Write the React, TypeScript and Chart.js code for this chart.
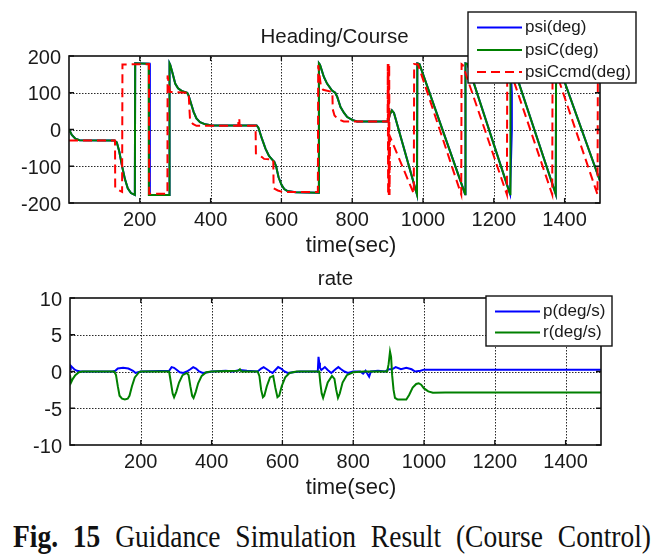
import React, { useEffect, useRef } from "react";
import { Chart, registerables } from "chart.js";

Chart.register(...registerables);

const FONT = "'Liberation Sans', Arial, Helvetica, sans-serif";

// ---------- axis ticks ----------
const xTicks = [200, 400, 600, 800, 1000, 1200, 1400];
const headingTicks = [-200, -100, 0, 100, 200];
const rateTicks = [-10, -5, 0, 5, 10];

// ---------- Heading/Course ----------
const psiT = [0,8,18,30,128,135,142,150,158,166,175,186,187,228,228.5,283,284,286,292,300,308,318,334,338,345,352,360,370,385,404,530,535,545,555,565,574,580,585,592,600,608,616,640,705,706,709,720,729,743,752,758,767,777,786,800,814,902,906,912,918,983,984,990,1119,1120,1126,1246,1251,1251,1247,1253,1375,1376,1382,1500];
const psiV = [0,-15,-25,-29,-30,-35,-60,-100,-135,-160,-173,-178,180,179,-178,-178,180,176,155,125,112,105,100,92,70,48,30,20,14,11,11,5,-25,-52,-72,-82,-88,-100,-130,-150,-162,-167,-171,-172,180,176,143,125,106,100,88,61,45,34,26,22,22,40,52,45,-177,180,178,-176,180,178,-176,0,100,180,178,-176,180,178,-140];

const psiCT = [0,8,18,30,128,135,142,150,158,166,175,186,187,225,225.5,283,284,286,292,300,308,318,334,338,345,352,360,370,385,404,530,535,545,555,565,574,580,585,592,600,608,616,640,705,706,709,720,729,743,752,758,767,777,786,800,814,902,906,912,918,983,984,990,1119,1120,1126,1246,1247,1253,1375,1376,1382,1500];
const psiCV = [0,-15,-25,-29,-30,-35,-60,-100,-135,-160,-173,-178,180,179,-178,-178,180,176,155,125,112,105,100,92,70,48,30,20,14,11,11,5,-25,-52,-72,-82,-88,-100,-130,-150,-162,-167,-171,-172,180,176,143,125,106,100,88,61,45,34,26,22,22,40,52,45,-177,180,178,-176,180,178,-176,180,178,-176,180,178,-140];

const cmdT = [0,130,130.5,140,150,151,226,226.5,278,278.5,285,338,340,342,350,360,478,479,481,482,527,528,545,551,577,578,590,603,703,704,706,712,718,744,745,750,760,776,900,900.5,901.5,902.5,903.5,904.5,905.5,907,974,975,986,1108,1109,1112,1237,1238,1241,1365,1366,1369,1493,1494,1500];
const cmdV = [-30,-30,-158,-165,-170,177,178,-175,-175,147,102,100,60,25,15,10,10,30,30,10,10,-65,-75,-80,-82,-160,-166,-170,-170,175,160,115,108,102,55,38,28,22,22,178,-178,178,-178,178,-178,-20,-175,178,177,-177,178,176,-177,178,176,-177,178,176,-177,178,178];

// ---------- rate ----------
const pT = [0,2,6,12,20,30,120,128,135,150,165,178,185,192,200,280,287,294,302,310,320,330,340,348,356,365,375,390,400,440,460,480,500,530,540,547,556,565,572,580,588,596,606,615,630,650,700,702,704,706,710,720,728,738,750,758,766,775,785,800,820,828,835,845,850,870,890,900,910,920,935,950,965,975,990,1000,1500];
const pV = [0.3,0.8,0.6,0.3,0.1,0,0,0.1,0.4,0.5,0.4,0.1,-0.2,-0.1,0,0.1,0.6,0.5,0.2,-0.1,-0.2,0,0.3,0.6,0.4,0,-0.2,-0.1,0,0.1,0,0.2,0.1,0,0.4,0.6,0.3,0,-0.2,0.2,0.6,0.4,0,-0.2,-0.1,0,0,2.0,1.2,0.5,0.2,0.6,0.2,-0.2,0.3,0.6,0.3,0,-0.2,0,0,-0.3,0.1,-0.7,0,0.1,0,0.3,0.3,0.6,0.3,0.5,0.3,0,0.1,0.25,0.25];

const rT = [0,3,8,15,25,35,125,130,135,140,147,155,163,168,175,183,195,200,280,285,290,294,300,308,318,330,335,340,345,349,355,362,372,385,400,475,480,484,530,535,540,545,549,556,565,574,580,586,591,598,608,620,640,704,707,711,715,720,728,740,747,752,757,762,770,782,800,830,896,900,904,907,910,914,918,925,950,958,968,978,985,992,1000,1012,1025,1060,1500];
const rV = [-0.5,-1.5,-1.0,-0.5,-0.1,0,0,-0.5,-2.0,-3.3,-3.7,-3.8,-3.7,-3.3,-2.0,-0.8,-0.1,0,0,-1.5,-3.0,-3.5,-2.8,-1.5,-0.5,-0.2,-0.5,-2.0,-3.3,-3.6,-2.8,-1.6,-0.6,-0.1,0,0.1,0.3,0,0,-0.6,-2.5,-3.5,-3.3,-2.0,-0.8,-0.6,-2.2,-3.5,-3.3,-2.0,-0.8,-0.2,0,0,-1.5,-3.0,-3.6,-2.8,-1.5,-0.6,-1.0,-2.5,-3.6,-3.0,-1.5,-0.5,-0.1,0,0,1.0,2.7,2.0,-0.5,-2.5,-3.6,-3.8,-3.8,-3.2,-2.2,-1.7,-1.6,-1.8,-2.3,-2.7,-2.9,-2.85,-2.85];

const BLUE = "#0000ff";
const GREEN = "#008000";
const RED = "#ff0000";
const RED_DASH = [9, 5];

const pts = (t: number[], v: number[]) => {
  const n = Math.min(t.length, v.length);
  const out: { x: number; y: number }[] = [];
  for (let i = 0; i < n; i++) out.push({ x: t[i], y: v[i] });
  return out;
};

interface LegendRow { label: string; color: string; dash: number[] }
interface Decor {
  title: string;
  titleY: number;
  xlabel: string;
  xlabelX: number;
  xlabelY: number;
  box: [number, number, number, number];
  rows: LegendRow[];
  rowY: number[];
  lineX: [number, number];
  textX: number;
}

function drawGrid(chart: any) {
  const { ctx, chartArea: a, scales } = chart;
  const xs = scales.x;
  const ys = scales.y;
  ctx.save();
  ctx.fillStyle = "#2a2a2a";
  const step = 3;
  for (const v of xTicks) {
    const px = Math.round(xs.getPixelForValue(v));
    if (px <= a.left + 2 || px >= a.right - 2) continue;
    for (let y = Math.round(a.top) + 1; y < a.bottom; y += step) ctx.fillRect(px, y, 1, 1.5);
  }
  for (const t of ys.ticks) {
    const py = Math.round(ys.getPixelForValue(t.value));
    if (py <= a.top + 2 || py >= a.bottom - 2) continue;
    for (let x = Math.round(a.left) + 1; x < a.right; x += step) ctx.fillRect(x, py, 1.5, 1);
  }
  ctx.restore();
}

function decorPlugin(d: Decor) {
  return {
    id: "decor",
    beforeDatasetsDraw(chart: any) {
      drawGrid(chart);
    },
    afterDraw(chart: any) {
      const { ctx, chartArea: a, scales } = chart;
      ctx.save();
      // frame
      ctx.setLineDash([]);
      ctx.strokeStyle = "#111";
      ctx.lineWidth = 1.6;
      ctx.strokeRect(a.left, a.top, a.right - a.left, a.bottom - a.top);
      // inward tick marks
      ctx.lineWidth = 1.3;
      const tl = 5;
      for (const v of xTicks) {
        const px = scales.x.getPixelForValue(v);
        ctx.beginPath();
        ctx.moveTo(px, a.bottom);
        ctx.lineTo(px, a.bottom - tl);
        ctx.moveTo(px, a.top);
        ctx.lineTo(px, a.top + tl);
        ctx.stroke();
      }
      for (const t of scales.y.ticks) {
        const py = scales.y.getPixelForValue(t.value);
        ctx.beginPath();
        ctx.moveTo(a.left, py);
        ctx.lineTo(a.left + tl, py);
        ctx.moveTo(a.right, py);
        ctx.lineTo(a.right - tl, py);
        ctx.stroke();
      }
      // title and x label
      ctx.fillStyle = "#1a1a1a";
      ctx.textBaseline = "alphabetic";
      ctx.textAlign = "center";
      ctx.font = `20.5px ${FONT}`;
      ctx.fillText(d.title, (a.left + a.right) / 2, d.titleY);
      ctx.font = `22px ${FONT}`;
      ctx.fillText(d.xlabel, d.xlabelX, d.xlabelY);
      // legend
      const [bx, by, bw, bh] = d.box;
      ctx.fillStyle = "#fff";
      ctx.fillRect(bx, by, bw, bh);
      ctx.strokeStyle = "#111";
      ctx.lineWidth = 1.4;
      ctx.strokeRect(bx, by, bw, bh);
      ctx.font = `17px ${FONT}`;
      ctx.textAlign = "left";
      ctx.textBaseline = "middle";
      d.rows.forEach((r, i) => {
        const y = d.rowY[i];
        ctx.strokeStyle = r.color;
        ctx.lineWidth = 2;
        ctx.setLineDash(r.dash);
        ctx.beginPath();
        ctx.moveTo(d.lineX[0], y);
        ctx.lineTo(d.lineX[1], y);
        ctx.stroke();
        ctx.setLineDash([]);
        ctx.fillStyle = "#1a1a1a";
        ctx.fillText(r.label, d.textX, y);
      });
      ctx.restore();
    },
  };
}

function buildChart(
  canvas: HTMLCanvasElement,
  datasets: any[],
  yMin: number,
  yMax: number,
  yTicks: number[],
  lay: { top: number; right: number; yWidth: number; xHeight: number },
  decor: Decor
) {
  const tickFont = { family: FONT, size: 20 };
  return new Chart(canvas, {
    type: "line",
    data: { datasets },
    options: {
      animation: false,
      responsive: false,
      maintainAspectRatio: false,
      events: [],
      layout: { padding: { left: 0, top: lay.top, right: lay.right, bottom: 0 } },
      elements: { point: { radius: 0 }, line: { tension: 0 } },
      plugins: {
        legend: { display: false },
        tooltip: { enabled: false },
        title: { display: false },
      },
      scales: {
        x: {
          type: "linear",
          min: 0,
          max: 1500,
          afterBuildTicks: (s: any) => {
            s.ticks = xTicks.map((v) => ({ value: v }));
          },
          afterFit: (s: any) => {
            s.height = lay.xHeight;
          },
          grid: { display: false, drawTicks: false },
          border: { display: false },
          ticks: {
            font: tickFont,
            color: "#1a1a1a",
            padding: 5,
            maxRotation: 0,
            autoSkip: false,
            callback: (v: any) => String(v),
          },
        },
        y: {
          type: "linear",
          min: yMin,
          max: yMax,
          afterBuildTicks: (s: any) => {
            s.ticks = yTicks.map((v) => ({ value: v }));
          },
          afterFit: (s: any) => {
            s.width = lay.yWidth;
          },
          grid: { display: false, drawTicks: false },
          border: { display: false },
          ticks: {
            font: tickFont,
            color: "#1a1a1a",
            padding: 8,
            labelOffset: 2,
            autoSkip: false,
            callback: (v: any) => String(v),
          },
        },
      },
    } as any,
    plugins: [decorPlugin(decor) as any],
  });
}

export default function App() {
  const topRef = useRef<HTMLCanvasElement>(null);
  const botRef = useRef<HTMLCanvasElement>(null);

  useEffect(() => {
    if (!topRef.current || !botRef.current) return;
    Chart.defaults.font.family = FONT;

    const top = buildChart(
      topRef.current,
      [
        { label: "psi(deg)", data: pts(psiT, psiV), borderColor: BLUE, borderWidth: 2, pointRadius: 0, fill: false, order: 3 },
        { label: "psiC(deg)", data: pts(psiCT, psiCV), borderColor: GREEN, borderWidth: 2, pointRadius: 0, fill: false, order: 2 },
        { label: "psiCcmd(deg)", data: pts(cmdT, cmdV), borderColor: RED, borderWidth: 2, borderDash: RED_DASH, pointRadius: 0, fill: false, order: 1 },
      ],
      -200,
      200,
      headingTicks,
      { top: 56, right: 57, yWidth: 69, xHeight: 59 },
      {
        title: "Heading/Course",
        titleY: 42.5,
        xlabel: "time(sec)",
        xlabelX: 351,
        xlabelY: 252,
        box: [468, 12, 168, 71],
        rows: [
          { label: "psi(deg)", color: BLUE, dash: [] },
          { label: "psiC(deg)", color: GREEN, dash: [] },
          { label: "psiCcmd(deg)", color: RED, dash: RED_DASH },
        ],
        rowY: [27.5, 50, 72],
        lineX: [477, 522],
        textX: 525,
      }
    );

    const bot = buildChart(
      botRef.current,
      [
        { label: "p(deg/s)", data: pts(pT, pV), borderColor: BLUE, borderWidth: 2, pointRadius: 0, fill: false, order: 2 },
        { label: "r(deg/s)", data: pts(rT, rV), borderColor: GREEN, borderWidth: 2, pointRadius: 0, fill: false, order: 1 },
      ],
      -10,
      10,
      rateTicks,
      { top: 36, right: 56, yWidth: 70, xHeight: 67 },
      {
        title: "rate",
        titleY: 23,
        xlabel: "time(sec)",
        xlabelX: 351,
        xlabelY: 232,
        box: [486, 34, 126, 50],
        rows: [
          { label: "p(deg/s)", color: BLUE, dash: [] },
          { label: "r(deg/s)", color: GREEN, dash: [] },
        ],
        rowY: [49.5, 70.5],
        lineX: [495, 540],
        textX: 543,
      }
    );

    return () => {
      top.destroy();
      bot.destroy();
    };
  }, []);

  return (
    <div style={{ position: "absolute", left: 0, top: 0, width: 657, height: 559, background: "#fff", overflow: "hidden" }}>
      <canvas ref={topRef} width={657} height={262} style={{ position: "absolute", left: 0, top: 0 }} />
      <canvas ref={botRef} width={657} height={250} style={{ position: "absolute", left: 0, top: 262 }} />
      <div
        style={{
          position: "absolute",
          left: 13,
          top: 522,
          width: 638,
          fontFamily: "'Liberation Serif', 'Times New Roman', serif",
          fontSize: 27.5,
          lineHeight: "30px",
          color: "#111",
          textAlign: "justify",
          textAlignLast: "justify" as any,
          whiteSpace: "nowrap",
          transform: "scaleY(1.12)",
          transformOrigin: "50% 50%",
        }}
      >
        <b>Fig. 15</b> Guidance Simulation Result (Course Control)
      </div>
    </div>
  );
}
